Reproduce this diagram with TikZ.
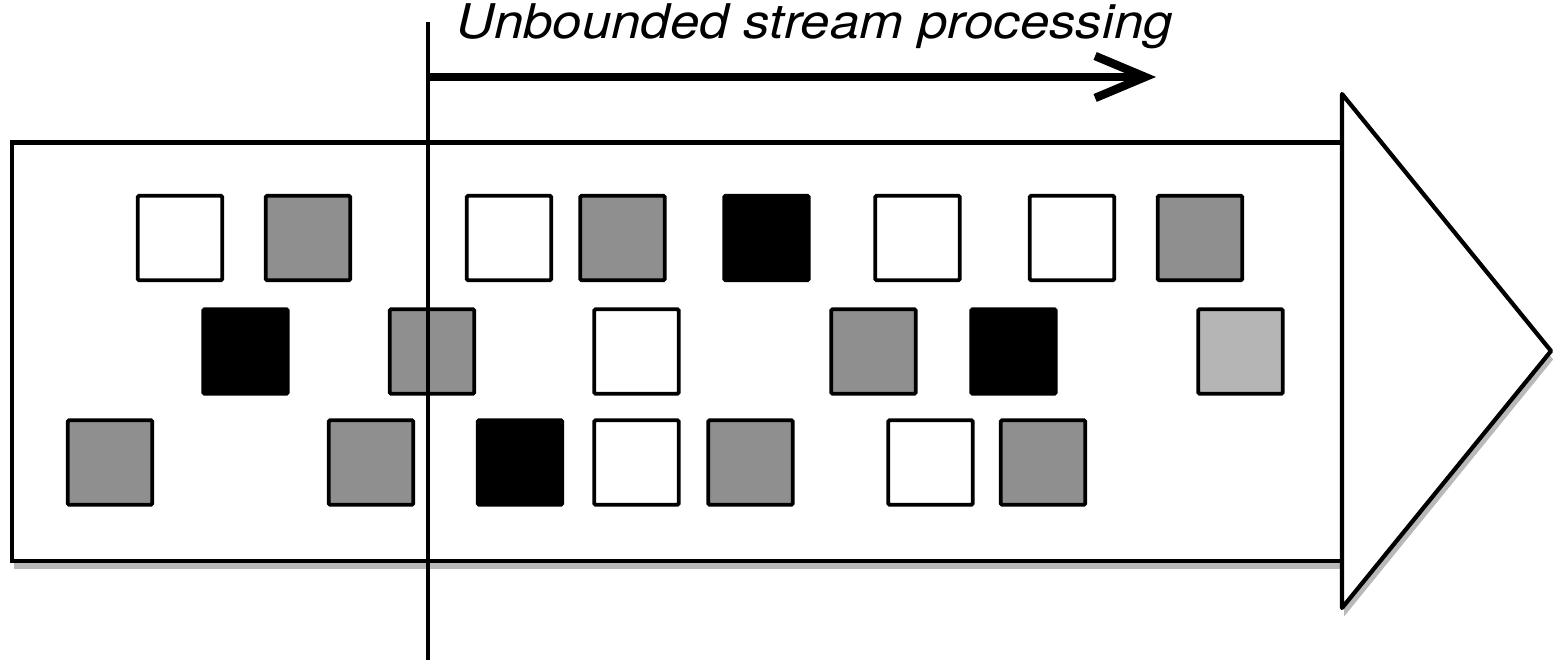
\documentclass[tikz,border=0pt]{standalone}
\usepackage{fontspec}
\setsansfont{TeX Gyre Heros}
\usepackage{tikz}
\usetikzlibrary{positioning, calc, shapes, arrows.meta, shadows}

\definecolor{itemgray}{gray}{0.56}
\definecolor{itemlight}{gray}{0.71}

\begin{document}
\begin{tikzpicture}[
        sq/.style={draw, line width=1.1pt, minimum size=0.845cm, inner sep=0pt, rounded corners=0.4pt},
        streambody/.style={draw, fill=white, line width=1.2pt,
            drop shadow={shadow xshift=0.6pt, shadow yshift=-2.4pt, opacity=0.55}},
        cutline/.style={line width=1pt},
        procarrow/.style={line width=2.4pt, -{Straight Barb[length=0.5cm, width=0.42cm]}},
        caption/.style={font=\sffamily\itshape\fontsize{13.6}{16}\selectfont, inner sep=0pt},
    ]
    \useasboundingbox (0,0) rectangle (15.65,6.62);

    % stream body and head
    \draw[streambody] (0.12,5.195) rectangle (13.42,1.01);
    \draw[streambody, line join=round] (13.42,5.68) -- (15.51,3.11) -- (13.42,0.54) -- cycle;

    % items, top row
    \foreach \x/\c [count=\i] in {1.80/white, 3.08/itemgray, 5.09/white, 6.225/itemgray,
            7.665/black, 9.175/white, 10.72/white, 12.00/itemgray}
        \node[sq, fill=\c] (top\i) at (\x,4.24) {};
    % middle row
    \foreach \x/\c [count=\i] in {2.455/black, 4.32/itemgray, 6.365/white, 8.735/itemgray,
            10.135/black, 12.405/itemlight}
        \node[sq, fill=\c] (mid\i) at (\x,3.105) {};
    % bottom row
    \foreach \x/\c [count=\i] in {1.10/itemgray, 3.71/itemgray, 5.20/black, 6.365/white,
            7.505/itemgray, 9.305/white, 10.43/itemgray}
        \node[sq, fill=\c] (bot\i) at (\x,1.995) {};

    % processing start
    \coordinate (cuttop) at (4.28,6.40);
    \coordinate (cutbot) at (4.28,0.02);
    \draw[cutline] (cuttop) -- (cutbot);

    \coordinate (procstart) at (4.28,5.85);
    \coordinate (procend) at (11.56,5.85);
    \draw[procarrow] (procstart) -- (procend);

    \node[caption, anchor=base west] (title) at (4.56,6.23) {\scalebox{1.105}[1]{Unbounded stream processing}};

\end{tikzpicture}
\end{document}
